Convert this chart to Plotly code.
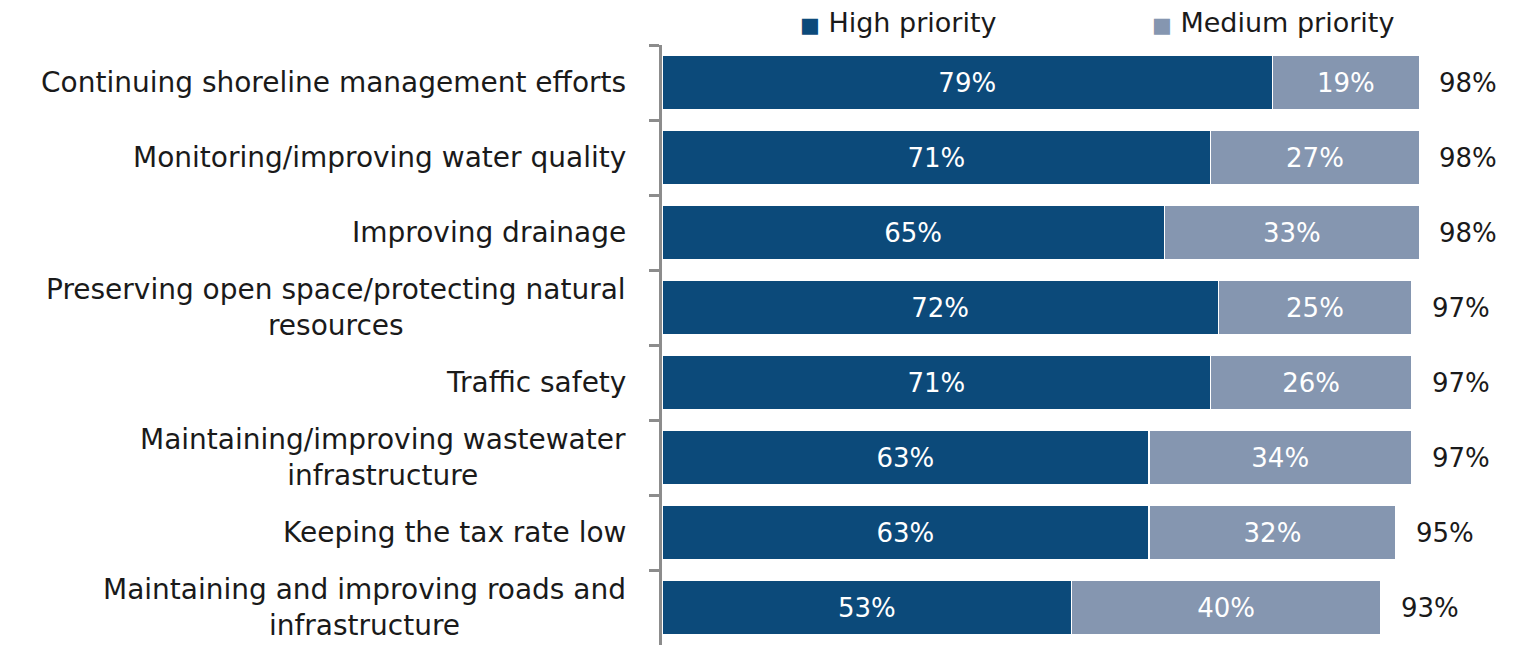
import plotly.graph_objects as go

categories = [
    "Continuing shoreline management efforts",
    "Monitoring/improving water quality",
    "Improving drainage",
    "Preserving open space/protecting natural<br>resources",
    "Traffic safety",
    "Maintaining/improving wastewater<br>infrastructure",
    "Keeping the tax rate low",
    "Maintaining and improving roads and<br>infrastructure",
]
high = [79, 71, 65, 72, 71, 63, 63, 53]
medium = [19, 27, 33, 25, 26, 34, 32, 40]
totals = [98, 98, 98, 97, 97, 97, 95, 93]
series_names = ["High priority", "Medium priority"]

FONT = "DejaVu Sans"
C_HIGH = "#0C4A7A"
C_MED = "#8596B0"
FS = 28
NS = 26
TXT = "#1a1a1a"

fig = go.Figure()
for name, vals, col in zip(series_names, [high, medium], [C_HIGH, C_MED]):
    fig.add_trace(go.Bar(
        y=categories, x=vals, orientation="h", name=name,
        marker=dict(color=col, line=dict(color="white", width=1.5)),
        text=[f"{v}%" for v in vals], textposition="inside", insidetextanchor="middle",
        textfont=dict(color="white", size=NS, family=FONT),
    ))

for c, t in zip(categories, totals):
    fig.add_annotation(x=t, y=c, xref="x", yref="y", text=f"{t}%", showarrow=False,
                       xanchor="left", xshift=18, font=dict(size=NS, color=TXT, family=FONT))
    fig.add_annotation(x=0, y=c, xref="paper", yref="y", text=c, showarrow=False,
                       xanchor="right", xshift=-34, align="center",
                       font=dict(size=FS, color=TXT, family=FONT))

# legend drawn as text entries at the top
for name, col, lx in zip(series_names, [C_HIGH, C_MED], [0.16, 0.574]):
    fig.add_annotation(x=lx, y=1.038, xref="paper", yref="paper", showarrow=False,
                       xanchor="left", yanchor="middle",
                       text=f"<span style='color:{col};font-size:21px'>■</span> {name}",
                       font=dict(size=27, color=TXT, family=FONT))

fig.update_layout(
    barmode="stack", bargap=0.267,
    width=1511, height=642,
    margin=dict(l=654, r=7, t=37, b=5),
    paper_bgcolor="white", plot_bgcolor="white",
    font=dict(family=FONT, size=FS, color=TXT),
    showlegend=False,
    uniformtext=dict(minsize=NS, mode="show"),
)
fig.update_xaxes(range=[0, 110], visible=False)
fig.update_yaxes(autorange="reversed", type="category", showticklabels=False,
                 showline=True, linecolor="#8c8c8c", linewidth=2.5,
                 ticks="outside", tickson="boundaries", ticklen=10, tickwidth=2.5,
                 tickcolor="#8c8c8c", showgrid=False)

fig.write_html("out.html")
